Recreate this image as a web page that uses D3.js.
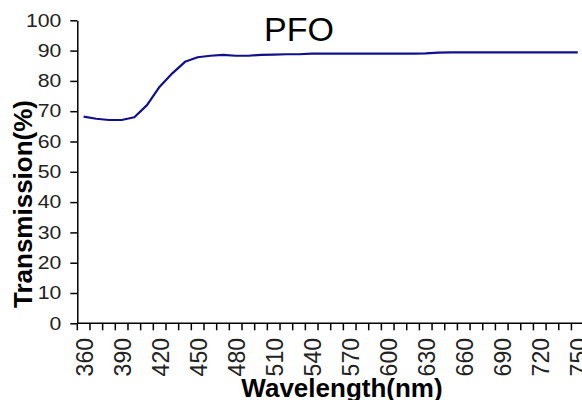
<!DOCTYPE html>
<html>
<head>
<meta charset="utf-8">
<script src="https://cdn.jsdelivr.net/npm/d3@7"></script>
<style>
  body { margin: 0; background: #fff; }
  svg { display: block; font-family: Arial, "Liberation Sans", sans-serif; }
</style>
</head>
<body>
<div id="chart"></div>
<script>
// wavelengths (nm) and transmission (%)
const wavelengths = d3.range(360, 751, 10);
const transmission = [
  68.2, 67.5, 67.1, 67.1, 68.0, 72.0, 78.1, 82.5, 86.3, 87.8,
  88.3, 88.6, 88.3, 88.3, 88.6, 88.7, 88.8, 88.8, 89.0, 89.0,
  89.0, 89.0, 89.0, 89.0, 89.0, 89.0, 89.0, 89.1, 89.3, 89.4,
  89.4, 89.4, 89.4, 89.4, 89.4, 89.4, 89.4, 89.4, 89.4, 89.4
];
const yTicks = d3.range(0, 101, 10);
const xLabels = d3.range(360, 751, 30);

(() => {
  const W = 582, H = 400;
  const plotLeft = 77.3, plotTop = 20.3, plotBottom = 323.3;
  const plotRight = plotLeft + wavelengths.length * 12.67;

  const svg = d3.select("#chart").append("svg")
    .attr("width", W).attr("height", H);

  const x = d3.scaleBand().domain(wavelengths).range([plotLeft, plotRight]);
  const y = d3.scaleLinear().domain([0, 100]).range([plotBottom, plotTop]);

  // y axis
  const yAxis = svg.append("g")
    .attr("transform", `translate(${plotLeft},0)`)
    .call(d3.axisLeft(y).tickValues(yTicks).tickSize(7).tickSizeOuter(0).tickPadding(9));
  yAxis.select(".domain").attr("stroke", "#000").attr("stroke-width", 1.5);
  yAxis.selectAll(".tick line").attr("stroke", "#000").attr("stroke-width", 1.5);
  yAxis.selectAll(".tick text")
    .attr("font-size", 18)
    .attr("fill", "#222")
    .attr("x", -16 / 1.18)
    .attr("transform", "scale(1.18,1)");

  // x axis: ticks on category boundaries, labels every 30 nm
  const xg = svg.append("g");
  xg.append("line")
    .attr("x1", plotLeft).attr("x2", plotRight)
    .attr("y1", plotBottom).attr("y2", plotBottom)
    .attr("stroke", "#000").attr("stroke-width", 1.5);
  xg.selectAll("line.tk")
    .data(wavelengths)
    .join("line")
    .attr("class", "tk")
    .attr("x1", d => x(d)).attr("x2", d => x(d))
    .attr("y1", plotBottom).attr("y2", plotBottom + 7)
    .attr("stroke", "#000").attr("stroke-width", 1.5);
  xg.selectAll("text")
    .data(xLabels)
    .join("text")
    .attr("transform", d => `translate(${x(d) + x.bandwidth() / 2 + 1},338) rotate(-90)`)
    .attr("text-anchor", "end")
    .attr("dy", "0.36em")
    .attr("font-size", 23)
    .attr("fill", "#222")
    .text(d => d);

  // line
  const line = d3.line()
    .x((d, i) => x(wavelengths[i]) + x.bandwidth() / 2)
    .y(d => y(d));
  svg.append("path")
    .datum(transmission)
    .attr("fill", "none")
    .attr("stroke", "#10108c")
    .attr("stroke-width", 2.2)
    .attr("stroke-linejoin", "round")
    .attr("d", line);

  // title
  svg.append("text")
    .attr("x", 299).attr("y", 41)
    .attr("text-anchor", "middle")
    .attr("font-size", 34)
    .text("PFO");

  // axis titles
  svg.append("text")
    .attr("transform", "translate(32,204) rotate(-90)")
    .attr("text-anchor", "middle")
    .attr("font-weight", "bold")
    .attr("font-size", 26)
    .text("Transmission(%)");

  svg.append("text")
    .attr("x", 342).attr("y", 397)
    .attr("text-anchor", "middle")
    .attr("font-weight", "bold")
    .attr("font-size", 26)
    .text("Wavelength(nm)");
})();
</script>
</body>
</html>
